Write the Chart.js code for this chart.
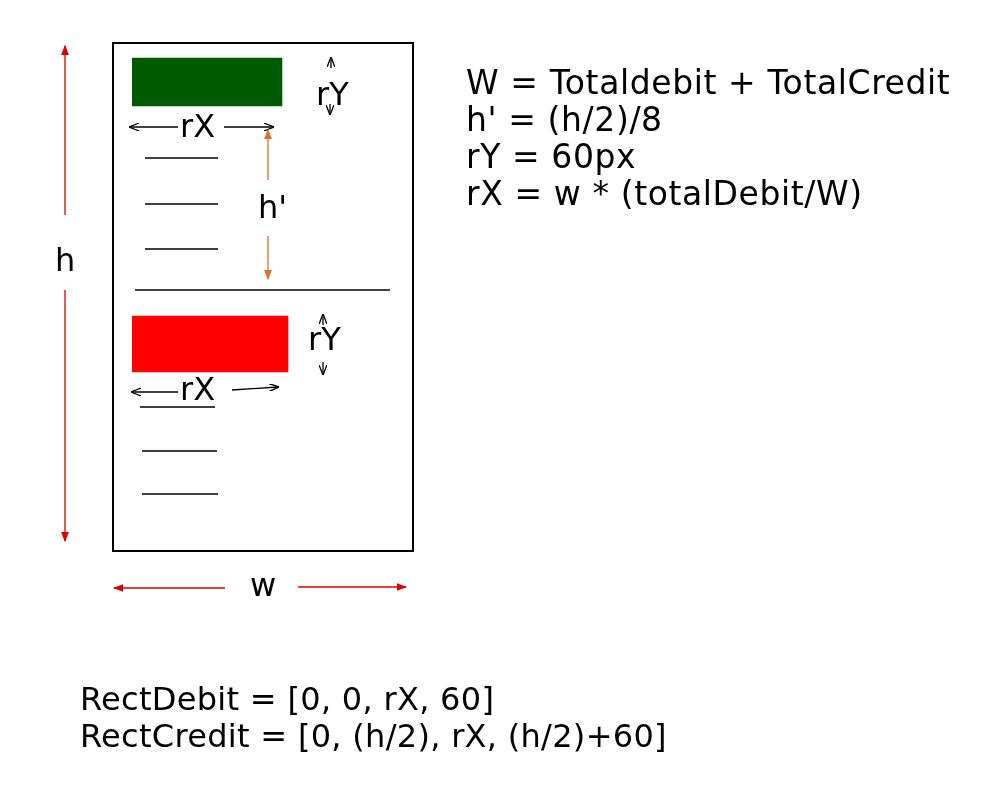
<!DOCTYPE html>
<html><head><meta charset="utf-8">
<script src="https://cdn.jsdelivr.net/npm/chart.js@4"></script>
<style>
body{margin:0;width:995px;height:801px;background:#fff;position:relative;overflow:hidden;font-family:"DejaVu Sans",Verdana,sans-serif;color:#000}
#box{position:absolute;left:112px;top:42px;width:298px;height:506px;border:2px solid #000}
#box canvas{position:absolute;left:0;top:0}
.t{position:absolute;font-size:32px;white-space:nowrap;line-height:1}
svg{position:absolute;left:0;top:0}
</style></head><body>
<div id="box"><canvas id="c" width="298" height="506"></canvas></div>
<svg width="995" height="801">
<defs>
<marker id="ab" markerWidth="8" markerHeight="6" refX="7" refY="3" orient="auto"><path d="M0,0 L8,3 L0,6" fill="none" stroke="#000" stroke-width="1"/></marker>
<marker id="ar" markerWidth="8" markerHeight="6" refX="7" refY="3" orient="auto"><path d="M0,0 L8,3 L0,6 z" fill="#d00"/></marker>
<marker id="ao" markerWidth="8" markerHeight="6" refX="7" refY="3" orient="auto"><path d="M0,0 L8,3 L0,6 z" fill="#e07030"/></marker>
</defs>
<g stroke="#000" stroke-width="1.5">
<line x1="145" y1="158" x2="218" y2="158"/><line x1="145" y1="204" x2="218" y2="204"/><line x1="145" y1="249" x2="218" y2="249"/>
<line x1="135" y1="290" x2="390" y2="290"/>
<line x1="140" y1="407" x2="215" y2="407"/><line x1="142" y1="451" x2="217" y2="451"/><line x1="142" y1="494" x2="218" y2="494"/>
</g>
<g stroke="#000" stroke-width="1.3" fill="none">
<line x1="178" y1="127" x2="130" y2="127" marker-end="url(#ab)"/><line x1="224" y1="127" x2="273" y2="127" marker-end="url(#ab)"/>
<line x1="178" y1="392" x2="132" y2="392" marker-end="url(#ab)"/><line x1="232" y1="390" x2="278" y2="387" marker-end="url(#ab)"/>
<line x1="331" y1="68" x2="331" y2="58" marker-end="url(#ab)"/><line x1="330" y1="104" x2="330" y2="114" marker-end="url(#ab)"/>
<line x1="323" y1="325" x2="323" y2="315" marker-end="url(#ab)"/><line x1="323" y1="362" x2="323" y2="374" marker-end="url(#ab)"/>
</g>
<g stroke="#d00" stroke-width="1.3">
<line x1="65" y1="215" x2="65" y2="46" marker-end="url(#ar)"/><line x1="65" y1="290" x2="65" y2="541" marker-end="url(#ar)"/>
<line x1="225" y1="588" x2="114" y2="588" marker-end="url(#ar)"/><line x1="298" y1="587" x2="406" y2="587" marker-end="url(#ar)"/>
</g>
<g stroke="#e07030" stroke-width="1.3">
<line x1="268" y1="180" x2="268" y2="130" marker-end="url(#ao)"/><line x1="268" y1="236" x2="268" y2="279" marker-end="url(#ao)"/>
</g>
</svg>
<div class="t" style="left:316px;top:78px">rY</div>
<div class="t" style="left:180px;top:110px">rX</div>
<div class="t" style="left:258px;top:191px">h'</div>
<div class="t" style="left:55px;top:244px">h</div>
<div class="t" style="left:308px;top:323px">rY</div>
<div class="t" style="left:180px;top:373px">rX</div>
<div class="t" style="left:250px;top:569px">w</div>
<div class="t" style="left:466px;top:64px;line-height:37px;font-size:33px;letter-spacing:0.6px">W = Totaldebit + TotalCredit<br>h' = (h/2)/8<br>rY = 60px<br>rX = w * (totalDebit/W)</div>
<div class="t" style="left:80px;top:681px;line-height:37px;font-size:32px;letter-spacing:0.3px">RectDebit = [0, 0, rX, 60]<br>RectCredit = [0, (h/2), rX, (h/2)+60]</div>
<script>
const categories = ["Debit", "Credit"];
const rectStart = [0, 0];
const rectWidth = [150, 156];
const rectRow = [38, 300];
const colors = ["#005a00", "#ff0000"];
const thickness = [48, 56];
new Chart(document.getElementById('c'), {
  type: 'bar',
  data: { datasets: categories.map((c, i) => ({
    label: c,
    data: [{ y: rectRow[i], x: [rectStart[i], rectWidth[i]] }],
    backgroundColor: colors[i], barThickness: thickness[i], grouped: false
  })) },
  options: {
    indexAxis: 'y', responsive: false, animation: false,
    layout: { padding: { left: 18, right: 0, top: 0, bottom: 0 } },
    plugins: { legend: { display: false }, tooltip: { enabled: false } },
    scales: {
      x: { type: 'linear', min: 0, max: 280, display: false },
      y: { type: 'linear', min: 0, max: 506, reverse: true, offset: false, display: false }
    }
  }
});
</script>
</body></html>
